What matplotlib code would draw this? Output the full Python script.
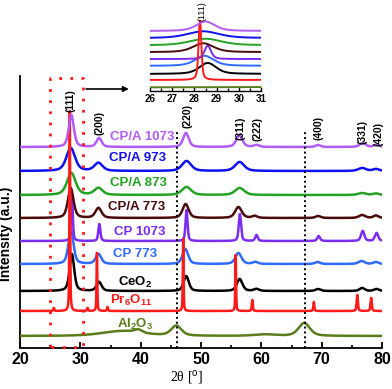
import matplotlib.pyplot as plt
import numpy as np

plt.rcParams['font.family'] = ['Liberation Sans', 'DejaVu Sans']
plt.rcParams['mathtext.fontset'] = 'custom'
plt.rcParams['mathtext.rm'] = 'Liberation Sans'
plt.rcParams['mathtext.bf'] = 'Liberation Sans:bold'

# XRD patterns: baseline offset and peaks as (2theta, height, fwhm)
names = ['Al2O3', 'Pr6O11', 'CeO2', 'CP 773', 'CP 1073',
         'CP/A 773', 'CP/A 873', 'CP/A 973', 'CP/A 1073']
labels = [r'Al$_\mathbf{2}$O$_\mathbf{3}$', r'Pr$_\mathbf{6}$O$_\mathbf{11}$', r'CeO$_\mathbf{2}$',
          'CP 773', 'CP 1073', 'CP/A 773', 'CP/A 873', 'CP/A 973', 'CP/A 1073']
colors = ['#5a7d1c', '#ff1a1a', '#000000', '#2f6bff', '#7a2cf0',
          '#4a0a0a', '#23a323', '#1010f0', '#b25cf5']
offsets = [12, 37, 57, 84, 107, 130, 153, 177, 201]
label_x = [39.1, 38.4, 39.0, 39.0, 39.8, 39.4, 39.6, 39.5, 40.2]
label_y = [24, 48, 66, 94, 116, 141, 165, 190, 211]

peaks_al2o3 = [(37.0, 5, 8.0), (39.6, 3, 1.5), (45.9, 10, 2.0), (60.5, 1.5, 4.0), (67.1, 13, 2.2)]
peaks_pr6o11 = [(25.6, 3, 0.2), (28.25, 200, 0.15), (31.2, 3, 0.2), (32.75, 58, 0.15),
                (34.5, 4, 0.2), (47.05, 72, 0.15), (55.75, 56, 0.15), (58.5, 11, 0.2),
                (68.7, 9, 0.2), (75.9, 16, 0.25), (78.2, 13, 0.25)]
peaks_ceo2 = [(28.6, 37, 0.9), (33.1, 9, 1.0), (47.55, 15, 1.0), (56.4, 12, 1.1),
              (59.2, 2, 1.0), (69.4, 2, 1.0), (76.7, 3, 1.0), (79.1, 2, 1.0)]
peaks_cp773 = [(28.45, 34, 1.0), (33.0, 10, 1.1), (47.4, 15, 1.1), (56.2, 11, 1.2),
               (59.0, 2, 1.0), (69.3, 2, 1.0), (76.6, 3, 1.2), (79.0, 2, 1.0)]
peaks_cp1073 = [(28.6, 45, 0.35), (33.15, 17, 0.4), (47.6, 31, 0.4), (56.45, 27, 0.45),
                (59.2, 6, 0.5), (69.5, 5, 0.55), (76.8, 10, 0.65), (79.1, 8, 0.65)]
peaks_cpa773 = [(28.4, 30, 1.1), (33.0, 10, 1.2), (47.45, 14, 1.2), (56.2, 11, 1.3),
                (58.9, 2, 1.0), (69.4, 2, 1.0), (76.7, 3, 1.2), (79.0, 2.5, 1.0)]
peaks_cpa873 = [(28.5, 22, 1.7), (33.0, 7, 1.6), (47.6, 8, 1.8), (56.4, 7, 1.8),
                (76.7, 2, 1.5), (79.0, 1.5, 1.2)]
peaks_cpa973 = [(28.4, 23, 1.7), (33.0, 8, 1.6), (47.6, 10, 1.8), (56.4, 9, 1.8),
                (76.7, 3, 1.5), (79.0, 2, 1.2)]
peaks_cpa1073 = [(28.5, 32, 1.0), (33.1, 9, 1.0), (47.5, 14, 1.1), (56.35, 12, 1.2),
                 (59.2, 2, 1.0), (69.4, 2, 1.0), (76.8, 4, 1.2), (79.1, 2.5, 1.0)]
peak_sets = [peaks_al2o3, peaks_pr6o11, peaks_ceo2, peaks_cp773, peaks_cp1073,
             peaks_cpa773, peaks_cpa873, peaks_cpa973, peaks_cpa1073]

hkl = ['(111)', '(200)', '(220)', '(311)', '(222)', '(400)', '(331)', '(420)']
hkl_x = [28.3, 33.1, 47.7, 56.5, 59.3, 69.4, 76.7, 79.4]
hkl_y = [236, 213, 220, 208, 207, 208, 204, 202]

two_theta = np.arange(20, 80.001, 0.01)


def pattern(peaks, base, eta=0.5):
    # pseudo-Voigt peak shapes on a flat baseline
    y = np.full_like(two_theta, float(base))
    for c, h, w in peaks:
        u = (two_theta - c) / (w / 2)
        y += h * (eta / (1 + u ** 2) + (1 - eta) * np.exp(-np.log(2) * u ** 2))
    return y


fig = plt.figure(figsize=(3.92, 3.89), dpi=100)
ax = fig.add_axes([20 / 392, 41 / 389, 362 / 392, 272 / 389])
ins = fig.add_axes([150 / 392, 298 / 389, 111 / 392, 71 / 389])

draw_order = [0, 2, 3, 4, 5, 6, 7, 1, 8]
for i in draw_order:
    y = pattern(peak_sets[i], offsets[i])
    ax.plot(two_theta, y, color=colors[i], lw=1.8, zorder=3 + draw_order.index(i))
    ins.plot(two_theta, y, color=colors[i], lw=1.4, zorder=3 + draw_order.index(i))
    ax.text(label_x[i], label_y[i], labels[i], color=colors[i], fontsize=9.5,
            fontweight='bold', ha='center', va='center', zorder=20)

for lab, xx, yy in zip(hkl, hkl_x, hkl_y):
    ax.text(xx, yy, lab, rotation=90, fontsize=7.5, fontweight='bold',
            ha='center', va='bottom', zorder=20)

# reference lines
for xv in [46.0, 67.2]:
    ax.plot([xv, xv], [0, 218], color='black', ls=(0, (1, 1.5)), lw=1.4, zorder=15)

# zoom box and arrow
box_x = [25, 25, 30.5, 30.5, 25]
box_y = [1, 270, 270, 1, 1]
ax.plot(box_x, box_y, color='#ff1a1a', ls=(0, (1, 3)), lw=2, zorder=16, clip_on=False)
ax.annotate('', xy=(38.5, 259), xytext=(30.5, 259),
            arrowprops=dict(arrowstyle='-|>', color='black', lw=1.2, mutation_scale=8),
            zorder=16, annotation_clip=False)

ax.set_xlim(20, 80)
ax.set_ylim(0, 272)
ax.spines['top'].set_visible(False)
ax.spines['right'].set_visible(False)
ax.spines['left'].set_linewidth(1.3)
ax.spines['bottom'].set_linewidth(1.3)
ax.set_yticks([])
ax.set_xticks(range(20, 81, 10))
ax.set_xticks(range(25, 80, 10), minor=True)
ax.tick_params(axis='x', which='major', direction='in', length=4, width=1.3,
               labelsize=11.5, pad=3)
ax.tick_params(axis='x', which='minor', direction='in', length=2.5, width=1.2)
for t in ax.get_xticklabels():
    t.set_fontweight('bold')
ax.set_xlabel(r'2θ [$^{\rm o}$]', family='Liberation Serif', fontsize=10)
ax.xaxis.set_label_coords(0.461, -0.078)
ax.set_ylabel('Intensity (a.u.)', fontsize=10, fontweight='bold')
ax.yaxis.set_label_coords(-0.018, 0.42)

ins.set_xlim(26, 31)
ins.set_ylim(0, 238)
for s in ['top', 'right', 'left']:
    ins.spines[s].set_visible(False)
ins.spines['bottom'].set_linewidth(1.0)
ins.set_yticks([])
ins.set_xticks(range(26, 32))
ins.set_xticks(np.arange(26.5, 31, 1.0), minor=True)
ins.tick_params(axis='x', which='major', direction='in', length=3, width=1,
                labelsize=7, pad=2)
ins.tick_params(axis='x', which='minor', direction='in', length=2, width=1)
for t in ins.get_xticklabels():
    t.set_fontweight('bold')
fig.text(202 / 392, 1 - 1 / 389, '(111)', rotation=90, fontsize=6.5,
         ha='center', va='top')
ins.patch.set_alpha(0)

fig.savefig('out.png', dpi=100)
